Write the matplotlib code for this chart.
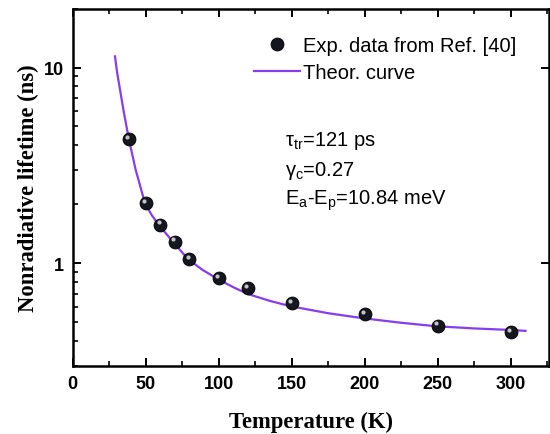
import numpy as np
import matplotlib
matplotlib.use('Agg')
import matplotlib.pyplot as plt
from matplotlib.ticker import LogLocator, NullFormatter, FixedLocator, FixedFormatter
from matplotlib.lines import Line2D
from matplotlib.transforms import offset_copy

# Experimental points
temp_exp = [38.5, 50, 60, 70, 80, 100, 120, 150, 200, 250, 300]
tau_exp = [4.31, 2.03, 1.57, 1.29, 1.05, 0.838, 0.745, 0.625, 0.551, 0.480, 0.445]

# Theoretical curve
temp_fit = [29, 30.5, 32.4, 35, 38.5, 43.1, 49.5, 54, 59, 69, 79, 89, 99.5, 110,
            120, 135, 149, 175, 199, 225, 249, 275, 299, 310]
tau_fit = [11.4, 9.4, 7.75, 5.95, 4.31, 3.02, 2.03, 1.77, 1.57, 1.28, 1.05, 0.925,
           0.83, 0.755, 0.697, 0.643, 0.604, 0.556, 0.524, 0.497, 0.477, 0.465,
           0.457, 0.452]

plt.rcParams['mathtext.fontset'] = 'custom'
plt.rcParams['mathtext.rm'] = 'Liberation Sans'
plt.rcParams['mathtext.it'] = 'Liberation Sans'

line_col = '#843EF0'
dot_col = '#16161e'

fig = plt.figure(figsize=(5.5, 4.35), dpi=100)
ax = fig.add_axes([0.132, 0.157, 0.866, 0.821])

ax.plot(temp_fit, tau_fit, color=line_col, lw=1.6, zorder=2)
ax.plot(temp_exp, tau_exp, 'o', ms=9.3, color=dot_col, mec='#000000', mew=0.6, zorder=3)
# small highlight to give the markers a sphere look
hl = offset_copy(ax.transData, fig=fig, x=-1.2, y=1.8, units='points')
ax.plot(temp_exp, tau_exp, 'o', ms=3, color='#c4c4c8', mec='none', transform=hl, zorder=4)

ax.set_yscale('log')
ax.set_xlim(0, 326)
ax.set_ylim(0.3, 20)

ax.xaxis.set_major_locator(FixedLocator([0, 50, 100, 150, 200, 250, 300]))
ax.xaxis.set_minor_locator(FixedLocator([25, 75, 125, 175, 225, 275, 325]))
ax.yaxis.set_major_locator(FixedLocator([1, 10]))
ax.yaxis.set_major_formatter(FixedFormatter(['1', '10']))
ax.yaxis.set_minor_locator(LogLocator(base=10, subs=np.arange(2, 10)))
ax.yaxis.set_minor_formatter(NullFormatter())

ax.tick_params(which='major', direction='in', length=5.8, width=1.4, top=True, right=True,
               labelsize=13, pad=6)
ax.tick_params(axis='x', which='major', pad=7)
ax.tick_params(which='minor', direction='in', length=3.6, width=1.2, top=True, right=False)
for lab in ax.get_xticklabels() + ax.get_yticklabels():
    lab.set_fontweight('bold')
    lab.set_fontfamily('Liberation Sans')

for sp in ax.spines.values():
    sp.set_linewidth(1.8)

ax.set_xlabel('Temperature (K)', fontfamily='Liberation Serif', fontweight='bold',
              fontsize=16.3, labelpad=13)
ax.set_ylabel('Nonradiative lifetime (ns)', fontfamily='Liberation Serif', fontweight='bold',
              fontsize=16.3, labelpad=4)

handles = [Line2D([], [], ls='none', marker='o', ms=9.3, color=dot_col, mec='#000000', mew=0.6),
           Line2D([], [], color=line_col, lw=1.6)]
ax.legend(handles, ['Exp. data from Ref. [40]', 'Theor. curve'],
          loc='upper left', bbox_to_anchor=(254 / 550, 1 - 37 / 435),
          bbox_transform=fig.transFigure, frameon=False,
          prop={'family': 'Liberation Sans', 'size': 14.5},
          handlelength=2.3, handletextpad=0.15, labelspacing=0.42,
          borderpad=0, borderaxespad=0)

txt = dict(fontfamily='Liberation Sans', fontsize=14.5, va='baseline', ha='left')
fig.text(285 / 550, 1 - 146 / 435, r'$\mathrm{\tau_{tr}}$=121 ps', **txt)
fig.text(285 / 550, 1 - 176 / 435, r'$\mathrm{\gamma_{c}}$=0.27', **txt)
fig.text(285 / 550, 1 - 205 / 435, r'E$_\mathrm{a}$-E$_\mathrm{p}$=10.84 meV', **txt)

fig.savefig('out.png', dpi=100)
